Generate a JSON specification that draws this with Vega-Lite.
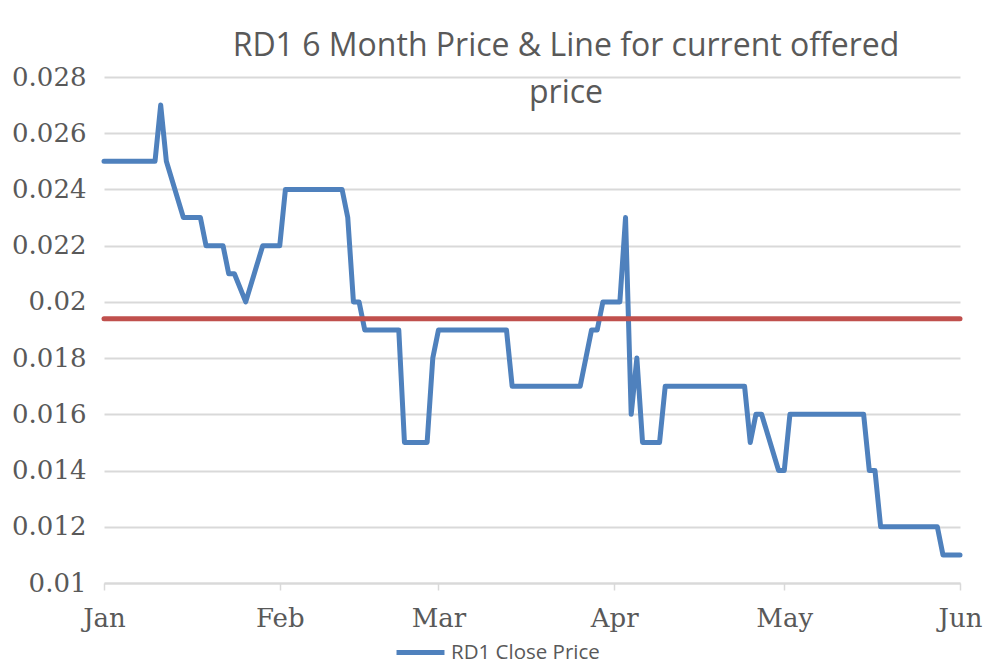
{
  "$schema": "https://vega.github.io/schema/vega-lite/v6.json",
  "width": 856,
  "height": 506,
  "autosize": {"type": "none"},
  "padding": {"left": 104, "top": 77, "right": 25, "bottom": 84},
  "background": "white",
  "title": {
    "text": ["RD1 6 Month Price & Line for current offered", "price"],
    "anchor": "middle",
    "dx": 34,
    "offset": -46,
    "font": "Open Sans",
    "fontSize": 32,
    "fontWeight": "normal",
    "color": "#595959",
    "lineHeight": 47
  },
  "config": {
    "view": {"stroke": null},
    "axis": {
      "labelFont": "DejaVu Serif",
      "labelFontSize": 26,
      "labelColor": "#595959",
      "gridColor": "#d9d9d9",
      "gridWidth": 2,
      "domainColor": "#d9d9d9",
      "domainWidth": 2,
      "tickColor": "#d9d9d9",
      "tickWidth": 1.5,
      "title": null
    }
  },
  "datasets": {
    "prices": [
      {"date": "2015-01-01", "price": 0.025},
      {"date": "2015-01-10", "price": 0.025},
      {"date": "2015-01-11", "price": 0.027},
      {"date": "2015-01-12", "price": 0.025},
      {"date": "2015-01-15", "price": 0.023},
      {"date": "2015-01-18", "price": 0.023},
      {"date": "2015-01-19", "price": 0.022},
      {"date": "2015-01-22", "price": 0.022},
      {"date": "2015-01-23", "price": 0.021},
      {"date": "2015-01-24", "price": 0.021},
      {"date": "2015-01-26", "price": 0.020},
      {"date": "2015-01-29", "price": 0.022},
      {"date": "2015-02-01", "price": 0.022},
      {"date": "2015-02-02", "price": 0.024},
      {"date": "2015-02-12", "price": 0.024},
      {"date": "2015-02-13", "price": 0.023},
      {"date": "2015-02-14", "price": 0.020},
      {"date": "2015-02-15", "price": 0.020},
      {"date": "2015-02-16", "price": 0.019},
      {"date": "2015-02-22", "price": 0.019},
      {"date": "2015-02-23", "price": 0.015},
      {"date": "2015-02-27", "price": 0.015},
      {"date": "2015-02-28", "price": 0.018},
      {"date": "2015-03-01", "price": 0.019},
      {"date": "2015-03-13", "price": 0.019},
      {"date": "2015-03-14", "price": 0.017},
      {"date": "2015-03-26", "price": 0.017},
      {"date": "2015-03-28", "price": 0.019},
      {"date": "2015-03-29", "price": 0.019},
      {"date": "2015-03-30", "price": 0.020},
      {"date": "2015-04-02", "price": 0.020},
      {"date": "2015-04-03", "price": 0.023},
      {"date": "2015-04-04", "price": 0.016},
      {"date": "2015-04-05", "price": 0.018},
      {"date": "2015-04-06", "price": 0.015},
      {"date": "2015-04-09", "price": 0.015},
      {"date": "2015-04-10", "price": 0.017},
      {"date": "2015-04-24", "price": 0.017},
      {"date": "2015-04-25", "price": 0.015},
      {"date": "2015-04-26", "price": 0.016},
      {"date": "2015-04-27", "price": 0.016},
      {"date": "2015-04-30", "price": 0.014},
      {"date": "2015-05-01", "price": 0.014},
      {"date": "2015-05-02", "price": 0.016},
      {"date": "2015-05-15", "price": 0.016},
      {"date": "2015-05-16", "price": 0.014},
      {"date": "2015-05-17", "price": 0.014},
      {"date": "2015-05-18", "price": 0.012},
      {"date": "2015-05-28", "price": 0.012},
      {"date": "2015-05-29", "price": 0.011},
      {"date": "2015-06-01", "price": 0.011}
    ],
    "offer": [{"offer": 0.0194}]
  },
  "layer": [
    {
      "data": {"name": "prices"},
      "mark": {"type": "line", "strokeWidth": 5, "strokeJoin": "round", "strokeCap": "round"},
      "encoding": {
        "x": {
          "field": "date",
          "type": "temporal",
          "scale": {
            "type": "utc",
            "domain": [
              {"year": 2015, "month": "jan", "date": 1, "utc": true},
              {"year": 2015, "month": "jun", "date": 1, "utc": true}
            ]
          },
          "axis": {
            "grid": false,
            "tickCount": {"interval": "month", "step": 1},
            "labelExpr": "utcFormat(datum.value, '%b')",
            "tickSize": 7,
            "labelPadding": 15,
            "labelFlush": false
          }
        },
        "y": {
          "field": "price",
          "type": "quantitative",
          "scale": {"domain": [0.01, 0.028], "zero": false, "nice": false},
          "axis": {
            "values": [0.01, 0.012, 0.014, 0.016, 0.018, 0.02, 0.022, 0.024, 0.026, 0.028],
            "format": ".3~f",
            "domain": false,
            "ticks": false,
            "labelPadding": 18
          }
        },
        "color": {
          "datum": "RD1 Close Price",
          "type": "nominal",
          "scale": {"domain": ["RD1 Close Price"], "range": ["#4f81bd"]},
          "legend": {
            "orient": "none",
            "legendX": 290,
            "legendY": 549,
            "title": null,
            "symbolType": "stroke",
            "symbolStrokeWidth": 5,
            "symbolSize": 2300,
            "labelFont": "Open Sans",
            "labelFontSize": 20.5,
            "labelColor": "#595959"
          }
        }
      }
    },
    {
      "data": {"name": "offer"},
      "mark": {"type": "rule", "color": "#c0504d", "strokeWidth": 5, "strokeCap": "round"},
      "encoding": {
        "y": {"field": "offer", "type": "quantitative"}
      }
    }
  ]
}
